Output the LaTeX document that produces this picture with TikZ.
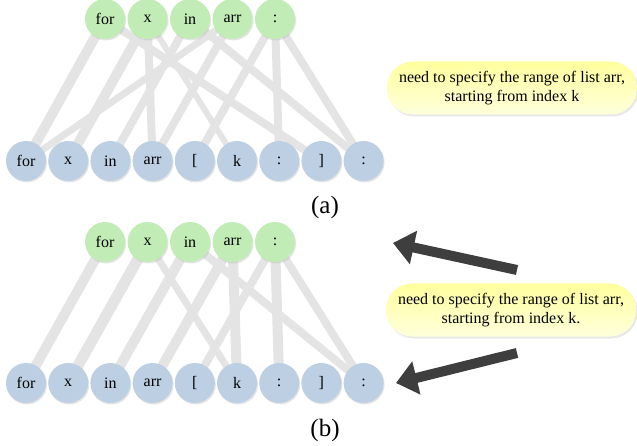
\documentclass[tikz,border=0pt]{standalone}
\usepackage{fontspec}
\setmainfont{Liberation Serif}
\usetikzlibrary{positioning,arrows.meta,shadows,backgrounds}

\definecolor{topgreen}{RGB}{194,236,181}
\definecolor{botblue}{RGB}{188,207,227}
\definecolor{linkgray}{RGB}{228,228,228}
\definecolor{arrowgray}{RGB}{62,62,62}

\tikzset{
  tok/.style={circle, minimum size=40pt, inner sep=0pt,
    font=\fontsize{16}{19}\selectfont,
    drop shadow={shadow xshift=1pt, shadow yshift=-1.5pt, fill=black!30, opacity=.35}},
  src/.style={tok, fill=topgreen},
  tgt/.style={tok, fill=botblue},
  link/.style={draw=linkgray, line width=8pt},
  linkheavy/.style={line width=10pt},
  linkthin/.style={line width=6pt},
  note/.style={rounded corners=26pt, minimum width=250pt, minimum height=53pt,
    align=center, font=\fontsize{16}{19}\selectfont,
    top color=yellow!38!white, bottom color=yellow!14!white,
    drop shadow={shadow xshift=1.5pt, shadow yshift=-2pt, fill=black!30, opacity=.3}},
  caption/.style={font=\fontsize{25}{30}\selectfont},
  bigarrow/.style={draw=arrowgray, line width=10pt,
    -{Triangle[width=33pt,length=21pt]}}
}

\begin{document}
\begin{tikzpicture}[x=1pt,y=-1pt,on grid,node distance=42.2pt]
  \useasboundingbox (0,0) rectangle (637,446);

  % (a)
  \node[src] (ta1) at (105,19) {for};
  \node[src, right=42.5pt of ta1] (ta2) {x};
  \node[src, right=42.5pt of ta2] (ta3) {in};
  \node[src, right=42.5pt of ta3] (ta4) {arr};
  \node[src, right=42.5pt of ta4] (ta5) {:};

  \node[tgt] (ba1) at (26,161) {for};
  \node[tgt, right=of ba1] (ba2) {x};
  \node[tgt, right=of ba2] (ba3) {in};
  \node[tgt, right=of ba3] (ba4) {arr};
  \node[tgt, right=of ba4] (ba5) {[};
  \node[tgt, right=of ba5] (ba6) {k};
  \node[tgt, right=of ba6] (ba7) {:};
  \node[tgt, right=of ba7] (ba8) {]};
  \node[tgt, right=of ba8] (ba9) {:};

  \node[caption] (capa) at (325,207) {(a)};
  \node[note] (notea) at (512,88) {need to specify the range of list arr,\\starting from index k};

  \begin{scope}[on background layer]
    \path[link]
      (ta1.center) edge[linkheavy] (ba1.center)
      (ta4.center) edge[line width=7pt] (ba1.center)
      (ta2.center) edge[linkheavy] (ba2.center)
      (ta3.center) edge (ba3.center)
      (ta2.center) edge (ba4.center)
      (ta4.center) edge (ba4.center)
      (ta5.center) edge (ba5.center)
      (ta2.center) edge[linkthin] (ba6.center)
      (ta5.center) edge (ba7.center)
      (ta1.center) edge (ba8.center)
      (ta3.center) edge (ba9.center)
      (ta5.center) edge (ba9.center);
  \end{scope}

  % (b)
  \node[src] (tb1) at (105,242) {for};
  \node[src, right=42.5pt of tb1] (tb2) {x};
  \node[src, right=42.5pt of tb2] (tb3) {in};
  \node[src, right=42.5pt of tb3] (tb4) {arr};
  \node[src, right=42.5pt of tb4] (tb5) {:};

  \node[tgt] (bb1) at (26,383) {for};
  \node[tgt, right=of bb1] (bb2) {x};
  \node[tgt, right=of bb2] (bb3) {in};
  \node[tgt, right=of bb3] (bb4) {arr};
  \node[tgt, right=of bb4] (bb5) {[};
  \node[tgt, right=of bb5] (bb6) {k};
  \node[tgt, right=of bb6] (bb7) {:};
  \node[tgt, right=of bb7] (bb8) {]};
  \node[tgt, right=of bb8] (bb9) {:};

  \node[caption] (capb) at (325,430) {(b)};
  \node[note] (noteb) at (511,310) {need to specify the range of list arr,\\starting from index k.};

  \begin{scope}[on background layer]
    \path[link]
      (tb1.center) edge[linkheavy] (bb1.center)
      (tb2.center) edge[line width=11pt] (bb2.center)
      (tb3.center) edge[linkheavy] (bb3.center)
      (tb4.center) edge[linkheavy] (bb4.center)
      (tb5.center) edge (bb5.center)
      (tb2.center) edge[line width=7pt] (bb6.center)
      (tb4.center) edge[linkheavy] (bb6.center)
      (tb5.center) edge[linkheavy] (bb7.center)
      (tb3.center) edge (bb9.center)
      (tb5.center) edge (bb9.center);
  \end{scope}

  \coordinate (tailup) at (517,270);
  \coordinate (tipup) at (393,243);
  \coordinate (taildown) at (517,353);
  \coordinate (tipdown) at (396,383);
  \draw[bigarrow] (tailup) -- (tipup);
  \draw[bigarrow] (taildown) -- (tipdown);
\end{tikzpicture}
\end{document}
